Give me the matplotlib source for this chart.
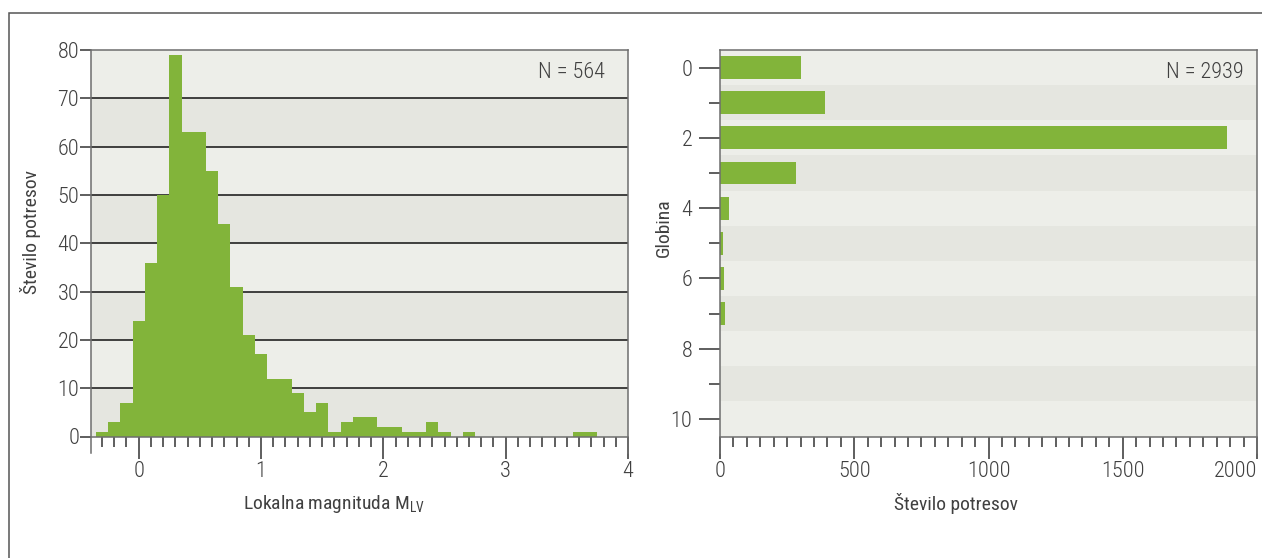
import numpy as np
import matplotlib.pyplot as plt
from matplotlib.ticker import MultipleLocator
from matplotlib.patches import Rectangle

plt.rcParams['font.family'] = ['Roboto Condensed', 'DejaVu Sans']
plt.rcParams['font.weight'] = 'light'

# histogram of local magnitudes (bin centres, width 0.1)
mag_centres = [-0.3, -0.2, -0.1, 0.0, 0.1, 0.2, 0.3, 0.4, 0.5, 0.6, 0.7, 0.8, 0.9,
               1.0, 1.1, 1.2, 1.3, 1.4, 1.5, 1.6, 1.7, 1.8, 1.9, 2.0, 2.1, 2.2,
               2.3, 2.4, 2.5, 2.6, 2.7, 2.8, 2.9, 3.0, 3.1, 3.2, 3.3, 3.4, 3.5,
               3.6, 3.7]
mag_counts = [1, 3, 7, 24, 36, 50, 79, 63, 63, 55, 44, 31, 21,
              17, 12, 12, 9, 5, 7, 1, 3, 4, 4, 2, 2, 1,
              1, 3, 1, 0, 1, 0, 0, 0, 0, 0, 0, 0, 0,
              1, 1]

# number of earthquakes per depth
depths = [0, 1, 2, 3, 4, 5, 6, 7, 8, 9, 10]
depth_counts = [300, 391, 1888, 283, 33, 11, 15, 18, 0, 0, 0]

green = '#82b43a'
light = '#edeee9'
dark = '#e5e6e0'
txt = '#404040'
spine_c = '#6e6e6e'

W, H = 1262, 558
fig = plt.figure(figsize=(W / 100, H / 100), dpi=100)

# outer frame
fig.add_artist(Rectangle((9 / W, -0.2), 1.2, 1.2 - 13 / H, transform=fig.transFigure,
                         fill=False, edgecolor='#555555', linewidth=1.1))

ax1 = fig.add_axes([91 / W, 1 - 436.5 / H, 537 / W, 386.5 / H])
ax2 = fig.add_axes([720 / W, 1 - 436.5 / H, 537 / W, 386.5 / H])

# ---- left: magnitude histogram ----
ax1.set_facecolor('none')
for i in range(8):
    ax1.axhspan(i * 10, i * 10 + 10, color=dark if i % 2 == 0 else light, lw=0, zorder=0.1)
for y in range(10, 80, 10):
    ax1.axhline(y, color='#111111', lw=1.1, zorder=0.5)
ax1.bar(mag_centres, mag_counts, width=0.1, color=green, linewidth=0, zorder=2)
ax1.set_xlim(-0.39, 4.0)
ax1.set_ylim(0, 80)
ax1.set_xticks([0, 1, 2, 3, 4])
ax1.xaxis.set_minor_locator(MultipleLocator(0.1))
ax1.set_yticks(range(0, 81, 10))
ax1.tick_params(axis='x', which='major', length=16, width=1.1, pad=1.5)
ax1.tick_params(axis='x', which='minor', length=7, width=1.1)
ax1.tick_params(axis='y', which='major', length=8, width=1.1, pad=0.5)
ax1.text(0.957, 0.943, 'N = 564', transform=ax1.transAxes, ha='right', va='center',
         fontsize=16, color=txt)
ax1.set_xlabel('Lokalna magnituda M$_\\mathregular{LV}$', fontsize=14, color=txt)
ax1.xaxis.set_label_coords(0.4525, -0.146)
ax1.set_ylabel('Število potresov', fontsize=14, color=txt)
ax1.yaxis.set_label_coords(-0.093, 0.53)
ax1.spines['left'].set_bounds(-3.4, 80)
ax1.spines['right'].set_bounds(-3.4, 80)

# ---- right: depth bars ----
ax2.set_facecolor('none')
for d in depths:
    ax2.axhspan(d - 0.5, d + 0.5, color=light if d % 2 == 0 else dark, lw=0, zorder=0.1)
ax2.barh(depths, depth_counts, height=0.65, color=green, linewidth=0, zorder=2)
ax2.set_xlim(0, 2000)
ax2.set_ylim(10.5, -0.5)
ax2.set_xticks([0, 500, 1000, 1500, 2000], labels=['0', '500', '1000', '1500', '2000'])
ax2.get_xticklabels()[-1].set_horizontalalignment('right')
ax2.xaxis.set_minor_locator(MultipleLocator(50))
ax2.set_yticks([0, 2, 4, 6, 8, 10])
ax2.set_yticks([1, 3, 5, 7, 9], minor=True)
ax2.tick_params(axis='x', which='major', length=16, width=1.1, pad=1.5)
ax2.tick_params(axis='x', which='minor', length=7, width=1.1)
ax2.tick_params(axis='y', which='major', length=15, width=1.1, pad=5)
ax2.tick_params(axis='y', which='minor', length=8, width=1.1)
ax2.text(0.976, 0.943, 'N = 2939', transform=ax2.transAxes, ha='right', va='center',
         fontsize=16, color=txt)
ax2.set_xlabel('Število potresov', fontsize=14, color=txt)
ax2.xaxis.set_label_coords(0.44, -0.146)
ax2.set_ylabel('Globina', fontsize=14, color=txt)
ax2.yaxis.set_label_coords(-0.0875, 0.54)
ax2.spines['left'].set_bounds(-0.5, 10.97)
ax2.spines['right'].set_bounds(-0.5, 10.97)

for ax in (ax1, ax2):
    for s in ax.spines.values():
        s.set_color(spine_c)
        s.set_linewidth(1.1)
        s.set_zorder(3)
    ax.tick_params(which='both', direction='out', color='#333333', labelcolor=txt,
                   labelsize=16)

fig.savefig('out.png', dpi=100)
